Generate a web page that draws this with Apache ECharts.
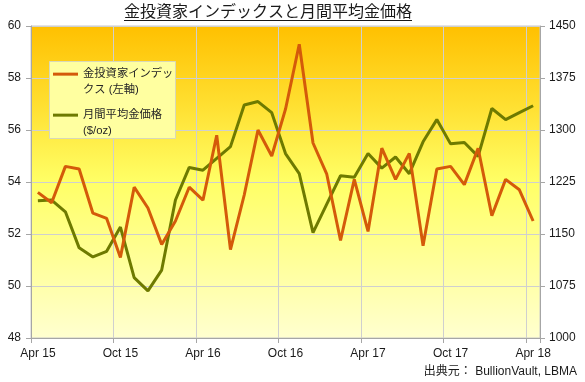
<!DOCTYPE html>
<html>
<head>
<meta charset="utf-8">
<script src="https://cdn.jsdelivr.net/npm/echarts@6/dist/echarts.min.js"></script>
<style>
html,body{margin:0;padding:0;background:#fff;}
#chart{width:585px;height:382px;}
</style>
</head>
<body>
<div id="chart"></div>
<script>
var months = ['Apr 15','May 15','Jun 15','Jul 15','Aug 15','Sep 15','Oct 15','Nov 15','Dec 15','Jan 16','Feb 16','Mar 16',
  'Apr 16','May 16','Jun 16','Jul 16','Aug 16','Sep 16','Oct 16','Nov 16','Dec 16','Jan 17','Feb 17','Mar 17',
  'Apr 17','May 17','Jun 17','Jul 17','Aug 17','Sep 17','Oct 17','Nov 17','Dec 17','Jan 18','Feb 18','Mar 18','Apr 18'];
var investorIndex = [53.6,53.2,54.6,54.5,52.8,52.6,51.1,53.8,53.0,51.6,52.5,53.8,
  53.3,55.8,51.4,53.5,56.0,55.0,56.8,59.3,55.5,54.3,51.75,54.1,
  52.1,55.3,54.1,55.1,51.55,54.5,54.6,53.9,55.3,52.7,54.1,53.7,52.5];
var goldPrice = [1198,1199,1182,1130,1117,1125,1160,1087,1068,1098,1199,1246,
  1242,1259,1276,1336,1341,1325,1266,1237,1152,1193,1234,1232,
  1266,1245,1261,1237,1283,1315,1280,1282,1262,1331,1315,1325,1335];
var leftAxisRange = [48, 60, 2];
var rightAxisRange = [1000, 1450, 75];
var seriesNames = ['金投資家インデックス (左軸)', '月間平均金価格 ($/oz)'];
var legendLines = {
  '金投資家インデックス (左軸)': ['金投資家インデッ', 'クス (左軸)'],
  '月間平均金価格 ($/oz)': ['月間平均金価格', '($/oz)']
};
var titleText = '金投資家インデックスと月間平均金価格';
var sourceText = '出典元： BullionVault, LBMA';

var FONT = '"Liberation Sans", Arial, "Noto Sans CJK JP", sans-serif';
var chart = echarts.init(document.getElementById('chart'), null, {renderer: 'canvas'});

function legendFmt(name) {
  var l = legendLines[name];
  return '{s| }\n{t|' + l[0] + '}\n{t|' + l[1] + '}';
}
var legendRich = {
  s: {lineHeight: 15.5, fontSize: 11.3, fontFamily: FONT},
  t: {lineHeight: 15.5, fontSize: 11.3, fontFamily: FONT, color: '#262626'}
};

var option = {
  animation: false,
  title: [
    {text: titleText, left: 124, top: 3, padding: 0,
     textStyle: {fontSize: 16, fontWeight: 'normal', color: '#1a1a1a', fontFamily: '"Noto Sans CJK JP", sans-serif'}},
    {text: sourceText, right: 8, top: 366, padding: 0,
     textStyle: {fontSize: 12, fontWeight: 'normal', color: '#1a1a1a', fontFamily: FONT}}
  ],
  graphic: [
    {type: 'line', shape: {x1: 124, y1: 20.5, x2: 412, y2: 20.5}, style: {stroke: '#1a1a1a', lineWidth: 1}, z: 10},
    {type: 'rect', shape: {x: 49.5, y: 61.5, width: 126, height: 77}, style: {fill: '#FFFFA0', stroke: '#D8D8B8', lineWidth: 1}, z: 3}
  ],
  legend: [
    {data: [seriesNames[0]], orient: 'vertical', left: 53, top: 53, padding: 0, itemWidth: 25, itemHeight: 3, icon: 'rect',
     formatter: legendFmt, textStyle: {rich: legendRich, fontSize: 11.3, fontFamily: FONT, color: '#262626'}, z: 5, selectedMode: false},
    {data: [seriesNames[1]], orient: 'vertical', left: 53, top: 94, padding: 0, itemWidth: 25, itemHeight: 3, icon: 'rect',
     formatter: legendFmt, textStyle: {rich: legendRich, fontSize: 11.3, fontFamily: FONT, color: '#262626'}, z: 5, selectedMode: false}
  ],
  grid: {
    left: 31, right: 45, top: 26, bottom: 44,
    show: true, borderColor: '#C8C8C8', borderWidth: 1,
    backgroundColor: {type: 'linear', x: 0, y: 0, x2: 0, y2: 1,
      colorStops: [
        {offset: 0, color: '#FFC000'},
        {offset: 0.25, color: '#FFDF30'},
        {offset: 0.5, color: '#FFFF66'},
        {offset: 0.75, color: '#FFFF99'},
        {offset: 1, color: '#FFFFD0'}
      ]}
  },
  xAxis: {
    type: 'category', data: months, boundaryGap: true,
    axisLine: {show: true, lineStyle: {color: '#A6A6A6'}},
    axisTick: {show: true, interval: 5, length: 5, lineStyle: {color: '#A6A6A6'}},
    axisLabel: {interval: 5, margin: 10, fontSize: 12, color: '#1a1a1a', fontFamily: FONT},
    splitLine: {show: true, interval: 5, lineStyle: {color: '#CFCFCF', width: 1}}
  },
  yAxis: [
    {type: 'value', position: 'left', min: leftAxisRange[0], max: leftAxisRange[1], interval: leftAxisRange[2],
     axisLine: {show: true, lineStyle: {color: '#A6A6A6'}},
     axisTick: {show: true, length: 5, lineStyle: {color: '#A6A6A6'}},
     axisLabel: {margin: 10, fontSize: 12, color: '#1a1a1a', fontFamily: FONT},
     splitLine: {show: true, lineStyle: {color: '#CFCFCF', width: 1}}},
    {type: 'value', position: 'right', min: rightAxisRange[0], max: rightAxisRange[1], interval: rightAxisRange[2],
     axisLine: {show: true, lineStyle: {color: '#A6A6A6'}},
     axisTick: {show: true, length: 5, lineStyle: {color: '#A6A6A6'}},
     axisLabel: {margin: 9, fontSize: 12, color: '#1a1a1a', fontFamily: FONT, formatter: function (v) { return String(v); }},
     splitLine: {show: false}}
  ],
  series: [
    {name: seriesNames[0], type: 'line', yAxisIndex: 0, data: investorIndex, showSymbol: false, symbol: 'none',
     lineStyle: {color: '#D45A0A', width: 3}, itemStyle: {color: '#D45A0A'}, z: 3},
    {name: seriesNames[1], type: 'line', yAxisIndex: 1, data: goldPrice, showSymbol: false, symbol: 'none',
     lineStyle: {color: '#6E7A00', width: 3}, itemStyle: {color: '#6E7A00'}, z: 2}
  ]
};
chart.setOption(option);
</script>
</body>
</html>
